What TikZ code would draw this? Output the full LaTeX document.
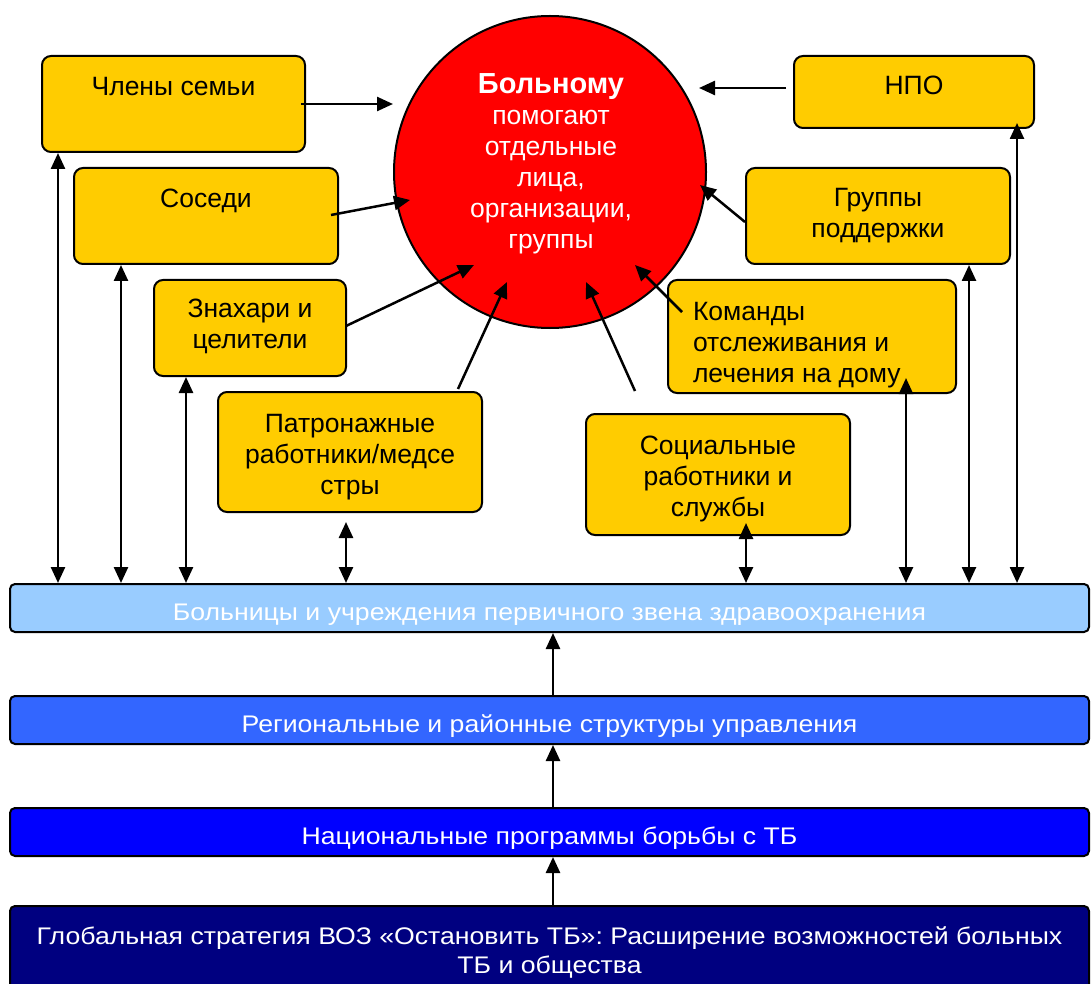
\documentclass[tikz,border=0pt]{standalone}
\usepackage{fontspec}
\setmainfont{Liberation Sans}
\newfontfamily\barfont[FakeStretch=1.11]{Liberation Sans}
\usetikzlibrary{positioning,arrows.meta,calc}
\definecolor{boxyellow}{HTML}{FFCC00}
\definecolor{hospblue}{HTML}{99CCFF}
\definecolor{regblue}{HTML}{3366FF}
\definecolor{natblue}{HTML}{0000FF}
\definecolor{globblue}{HTML}{000080}
\tikzset{every picture/.style={line width=2pt}}

\begin{document}
\begin{tikzpicture}[x=1pt,y=-1pt,
  box/.style={draw, fill=boxyellow, rounded corners=9pt},
  boxtext/.style={inner sep=0pt, align=center, font=\fontsize{26.5}{31}\selectfont},
  bar/.style={draw, rounded corners=5pt, minimum width=1079pt, minimum height=48pt,
    text=white, font=\barfont\fontsize{24}{29}\selectfont},
  barline/.style={bar, text height=24pt, text depth=0pt},
  arr/.style={-{Triangle[length=16pt,width=14pt]}, line width=2.5pt},
  dbl/.style={{Triangle[length=16pt,width=14pt]}-{Triangle[length=16pt,width=14pt]}, line width=2.5pt}]
\clip (0,0) rectangle (1092,984);
\fill[white] (0,0) rectangle (1092,984);
% patient in the middle
\node[draw, circle, fill=red, minimum size=312pt] (patient) at (550,172) {};
\node[inner sep=0pt, align=center, text=white, font=\fontsize{26.5}{31}\selectfont, anchor=north]
  (patienttxt) at (551,73) {{\fontsize{29}{31}\selectfont\textbf{Больному}}\\помогают\\отдельные\\лица,\\организации,\\группы};
%
\node[box, minimum width=263pt, minimum height=96pt] (fam) at (173.5,104) {};
\node[boxtext, below=21pt of fam.north] (famtxt) {Члены семьи};
\node[box, minimum width=264pt, minimum height=96pt] (nbr) at (206,216) {};
\node[boxtext, below=21pt of nbr.north] (nbrtxt) {Соседи};
\node[box, minimum width=192pt, minimum height=96pt] (heal) at (250,328) {};
\node[boxtext, below=19pt of heal.north] (healtxt) {Знахари и\\целители};
\node[box, minimum width=264pt, minimum height=120pt] (nurse) at (350,452) {};
\node[boxtext, below=22pt of nurse.north] (nursetxt) {Патронажные\\работники/медсе\\стры};
\node[box, minimum width=264pt, minimum height=121pt] (soc) at (718,474.5) {};
\node[boxtext, below=22pt of soc.north] (soctxt) {Социальные\\работники и\\службы};
\node[box, minimum width=288pt, minimum height=113pt] (home) at (812,336.5) {};
\node[boxtext, align=left, anchor=north west] (hometxt) at ($(home.north west)+(25,22)$)
  {Команды\\отслеживания и\\лечения на дому};
\node[box, minimum width=264pt, minimum height=96pt] (supp) at (878,216) {};
\node[boxtext, below=20pt of supp.north] (supptxt) {Группы\\поддержки};
\node[box, minimum width=240pt, minimum height=72pt] (ngo) at (914,92) {};
\node[boxtext, below=20pt of ngo.north] (ngotxt) {НПО};
%
\node[barline, fill=hospblue] (hosp) at (549.5,608) {Больницы и учреждения первичного звена здравоохранения};
\node[barline, fill=regblue] (reg) at (549.5,720) {Региональные и районные структуры управления};
\node[barline, fill=natblue] (nat) at (549.5,832) {Национальные программы борьбы с ТБ};
\node[bar, fill=globblue, minimum height=92pt, align=center] (glob) at (549.5,952)
  {Глобальная стратегия ВОЗ «Остановить ТБ»: Расширение возможностей больных\\ТБ и общества};
%
\draw[arr] ([xshift=3.5pt]glob.north) -- ([xshift=3.5pt]nat.south);
\draw[arr] ([xshift=3.5pt]nat.north) -- ([xshift=3.5pt]reg.south);
\draw[arr] ([xshift=3.5pt]reg.north) -- ([xshift=3.5pt]hosp.south);
%
\draw[arr] ($(fam.east)+(-5,0)$) -- ($(patient)+(-157,-68)$);
\draw[arr] ($(ngo.west)+(-7,-4)$) -- ($(patient)+(149,-84)$);
\draw[arr] ($(nbr.east)+(-8,-1)$) -- ($(patient)+(-140,28)$);
\draw[arr] ($(supp.west)+(0,6)$) -- ($(patient)+(150,13)$);
\draw[arr] ($(heal.east)+(-1,-2)$) -- ($(patient)+(-76,93)$);
\draw[arr] ($(nurse.north)+(108,-2)$) -- ($(patient)+(-43,110)$);
\draw[arr] ($(soc.north)+(-83,-22)$) -- ($(patient)+(36,110)$);
\draw[arr] ($(home.north west)+(15,33)$) -- ($(patient)+(85,93)$);
%
\foreach \n/\dx/\dy in {fam/17/0, nbr/48/0, heal/33/0, nurse/129/9, soc/161/-13,
    home/239/-16, supp/224/0, ngo/224/-6}
  \draw[dbl] ($(\n.south west)+(\dx,\dy)$) coordinate (top) -- (top |- hosp.north);
\end{tikzpicture}
\end{document}
